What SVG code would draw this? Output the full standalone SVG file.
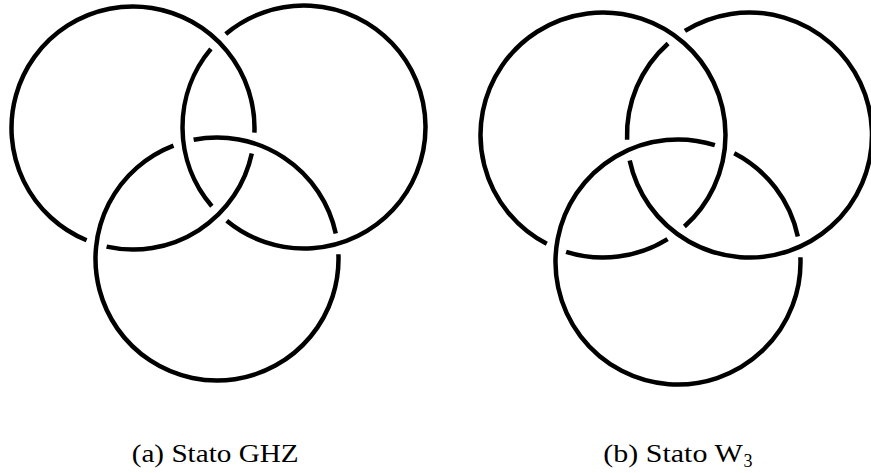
<svg xmlns="http://www.w3.org/2000/svg" width="871" height="473" viewBox="0 0 871 473">
<style>
  .ring { fill: none; stroke: #000; stroke-width: 4.5; stroke-linecap: butt; }
  .cap { font-family: "Liberation Serif", "Times New Roman", serif; font-size: 26px; fill: #000; }
  .sub { font-family: "Liberation Serif", "Times New Roman", serif; font-size: 18px; fill: #000; }
</style>
<rect width="871" height="473" fill="#fff"/>
<g id="fig-ghz">
  <g id="ghz-ring-a">
    <path class="ring" d="M 251.80 153.47 A 121.5 121.5 0 0 1 106.58 246.59"/>
    <path class="ring" d="M 86.59 240.29 A 121.5 121.5 0 1 1 254.41 132.66"/>
  </g>
  <g id="ghz-ring-b">
    <path class="ring" d="M 211.84 206.18 A 121.5 121.5 0 0 1 210.91 48.92"/>
    <path class="ring" d="M 225.72 34.08 A 121.5 121.5 0 1 1 226.72 220.75"/>
  </g>
  <g id="ghz-ring-c">
    <path class="ring" d="M 193.65 139.76 A 121.5 121.5 0 0 1 335.78 233.43"/>
    <path class="ring" d="M 338.41 254.23 A 121.5 121.5 0 1 1 173.50 145.55"/>
  </g>
  <text id="caption-a" class="cap" x="131.7" y="461.7" textLength="167" lengthAdjust="spacingAndGlyphs">(a) Stato GHZ</text>
</g>
<g id="fig-w3">
  <g id="w3-ring-d">
    <path class="ring" d="M 667.58 239.09 A 122.5 122.5 0 0 1 566.14 251.82"/>
    <path class="ring" d="M 546.76 243.83 A 122.5 122.5 0 1 1 684.41 226.54"/>
  </g>
  <g id="w3-ring-e">
    <path class="ring" d="M 627.09 139.72 A 122.5 122.5 0 0 1 668.09 43.46"/>
    <path class="ring" d="M 684.92 30.91 A 122.5 122.5 0 1 1 629.69 160.53"/>
  </g>
  <g id="w3-ring-f">
    <path class="ring" d="M 734.24 153.17 A 122.5 122.5 0 0 1 797.81 236.47"/>
    <path class="ring" d="M 800.41 257.28 A 122.5 122.5 0 1 1 714.86 145.18"/>
  </g>
  <text id="caption-b" class="cap" x="603.3" y="461.7" textLength="139.4" lengthAdjust="spacingAndGlyphs">(b) Stato W</text>
  <text class="sub" x="743.5" y="466.5">3</text>
</g>
</svg>
